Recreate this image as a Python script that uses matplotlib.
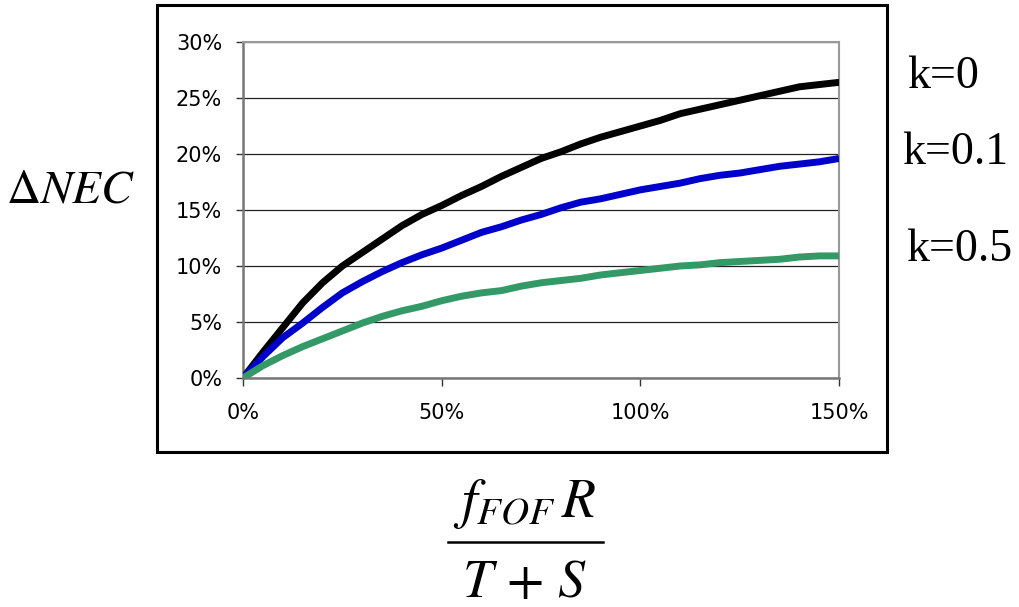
import numpy as np
import matplotlib.pyplot as plt
from matplotlib.patches import Rectangle
from matplotlib.lines import Line2D
from matplotlib.ticker import PercentFormatter

plt.rcParams['mathtext.fontset'] = 'stix'

# x axis: f_FOF R / (T + S), in %
x_pct = [0, 5, 10, 15, 20, 25, 30, 35, 40, 45, 50, 55, 60, 65, 70, 75,
         80, 85, 90, 95, 100, 105, 110, 115, 120, 125, 130, 135, 140, 145, 150]

# delta NEC in %, one series per k
k0 = [0, 2.3, 4.5, 6.7, 8.5, 10.0, 11.2, 12.4, 13.6, 14.6, 15.4, 16.3, 17.1, 18.0,
      18.8, 19.6, 20.2, 20.9, 21.5, 22.0, 22.5, 23.0, 23.6, 24.0, 24.4, 24.8,
      25.2, 25.6, 26.0, 26.2, 26.4]
k01 = [0, 1.9, 3.6, 4.9, 6.3, 7.6, 8.6, 9.5, 10.3, 11.0, 11.6, 12.3, 13.0, 13.5,
       14.1, 14.6, 15.2, 15.7, 16.0, 16.4, 16.8, 17.1, 17.4, 17.8, 18.1, 18.3,
       18.6, 18.9, 19.1, 19.3, 19.6]
k05 = [0, 1.1, 2.0, 2.8, 3.5, 4.2, 4.9, 5.5, 6.0, 6.4, 6.9, 7.3, 7.6, 7.8, 8.2,
       8.5, 8.7, 8.9, 9.2, 9.4, 9.6, 9.8, 10.0, 10.1, 10.3, 10.4, 10.5, 10.6,
       10.8, 10.9, 10.9]

series_labels = ['k=0', 'k=0.1', 'k=0.5']
series_colors = ['#000000', '#0000CC', '#339966']

fig = plt.figure(figsize=(10.19, 6.07), dpi=100)
ax = fig.add_axes([0.2385, 0.3773, 0.585, 0.5535])

for ys, c in zip([k0, k01, k05], series_colors):
    ax.plot(x_pct, ys, color=c, lw=5, solid_capstyle='butt', zorder=3)

ax.set_xlim(0, 150)
ax.set_ylim(0, 30)
ax.set_xticks([0, 50, 100, 150])
ax.set_yticks(np.arange(0, 31, 5))
ax.xaxis.set_major_formatter(PercentFormatter(decimals=0))
ax.yaxis.set_major_formatter(PercentFormatter(decimals=0))
ax.tick_params(axis='y', direction='out', length=5, width=1, color='#333333',
               labelsize=15, pad=10)
ax.tick_params(axis='x', direction='out', length=6, width=1, color='#333333',
               labelsize=15, pad=12)
ax.yaxis.grid(True, color='#222222', lw=0.9)
ax.set_axisbelow(True)
for s in ['left', 'bottom']:
    ax.spines[s].set_color('#777777')
    ax.spines[s].set_linewidth(1.8)
for s in ['right', 'top']:
    ax.spines[s].set_color('#999999')
    ax.spines[s].set_linewidth(1.5)

# outer chart border
fig.patches.append(Rectangle((0.154, 0.2554), 0.7165, 0.7364, transform=fig.transFigure,
                             fill=False, edgecolor='black', lw=2.2))

# series labels to the right of the chart
label_y = [0.873, 0.749, 0.588]
label_x = [0.890, 0.885, 0.889]
for t, lx, ly in zip(series_labels, label_x, label_y):
    fig.text(lx, ly, t, family='Liberation Serif', fontsize=33, va='center', ha='left')

fig.text(0.006, 0.687, r'$\Delta NEC$', fontsize=34, va='center', ha='left')

# x axis title as a built fraction
fig.text(0.515, 0.148, r'$f_{FOF}\,R$', fontsize=40, va='baseline', ha='center')
fig.lines.append(Line2D([0.440, 0.592], [0.107, 0.107], transform=fig.transFigure,
                        color='black', lw=1.8))
fig.text(0.515, 0.016, r'$T\,+\,S$', fontsize=39, va='baseline', ha='center')

fig.savefig('out.png', dpi=100)
